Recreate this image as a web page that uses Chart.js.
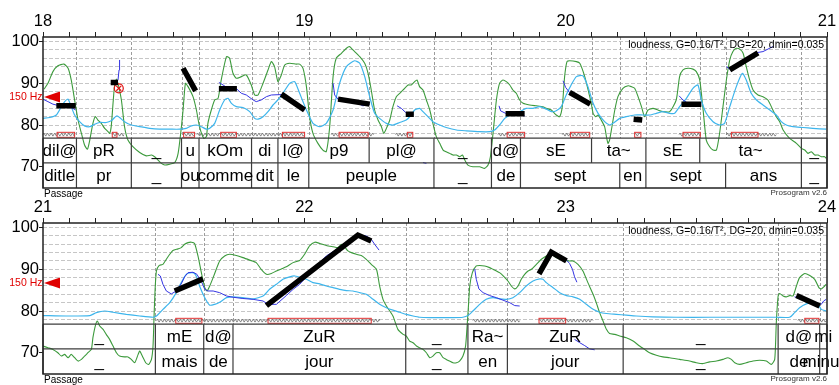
<!DOCTYPE html>
<html>
<head>
<meta charset="utf-8">
<script src="https://cdn.jsdelivr.net/npm/chart.js@4.4.1/dist/chart.umd.min.js"></script>
<style>
  html, body { margin: 0; padding: 0; background: #fff; width: 839px; height: 385px; overflow: hidden; }
  canvas { position: absolute; left: 0; }
  #panel1 { top: 0; }
  #panel2 { top: 186px; }
</style>
</head>
<body>
<canvas id="panel1" width="839" height="200"></canvas>
<canvas id="panel2" width="839" height="199"></canvas>
<script>
// ---------- shared axis data ----------
const yTickValues = [70, 78, 80, 82, 84, 86, 88, 90, 92, 94, 96, 98, 100];
const yRange = [64.9, 101.1];
const tierTop = 76.85;     // top of syllable tier (semitones)
const tierMid = 70.9;      // syllable / word tier separator
const nucleusBand = [77.05, 78.25];
const zigzagLevel = 77.7;
const refLabel = '150 Hz';
const refSemitones = 86.74; // 150 Hz re 1 Hz
const paramText = 'loudness, G=0.16/T\u00B2, DG=20, dmin=0.035';

// ---------- panel 1: 18 - 21 s ----------
const p1Time = [18, 21];
const p1Intensity = [[18.004,88.6],[18.019,90.0],[18.038,92.8],[18.057,94.2],[18.080,94.6],[18.096,93.6],[18.108,90.8],[18.121,86.0],[18.134,81.2],[18.147,78.0],[18.159,75.2],[18.170,74.2],[18.179,76.4],[18.191,80.4],[18.200,82.0],[18.210,81.2],[18.223,80.4],[18.236,79.2],[18.249,78.4],[18.255,78.0],[18.261,79.6],[18.268,85.2],[18.274,89.6],[18.281,91.0],[18.287,90.0],[18.300,86.0],[18.312,79.6],[18.325,76.4],[18.344,74.8],[18.370,73.4],[18.395,72.6],[18.415,72.8],[18.427,72.4],[18.440,71.6],[18.453,70.8],[18.466,70.4],[18.485,70.6],[18.504,71.0],[18.517,73.2],[18.529,79.2],[18.536,83.6],[18.545,90.0],[18.555,89.2],[18.574,86.8],[18.587,83.6],[18.599,79.6],[18.615,76.8],[18.625,77.2],[18.631,80.4],[18.644,83.6],[18.657,86.0],[18.670,86.4],[18.682,90.8],[18.702,96.4],[18.714,96.0],[18.727,92.4],[18.740,91.2],[18.759,91.6],[18.778,92.0],[18.797,89.6],[18.810,87.2],[18.823,87.2],[18.842,90.0],[18.861,93.2],[18.874,95.2],[18.886,94.0],[18.899,90.4],[18.912,92.0],[18.925,94.4],[18.944,94.8],[18.969,94.6],[18.982,94.6],[18.995,93.6],[19.008,89.2],[19.020,82.0],[19.033,78.0],[19.052,75.6],[19.071,74.0],[19.084,73.6],[19.097,79.6],[19.110,91.6],[19.122,96.0],[19.142,97.2],[19.161,98.4],[19.173,98.8],[19.186,98.0],[19.212,96.4],[19.231,94.8],[19.244,92.4],[19.256,88.4],[19.269,83.6],[19.282,81.2],[19.295,79.6],[19.304,78.0],[19.314,79.2],[19.327,81.2],[19.339,84.4],[19.352,86.8],[19.365,87.6],[19.378,88.4],[19.397,89.6],[19.409,89.6],[19.422,90.4],[19.431,90.8],[19.441,89.2],[19.454,88.4],[19.467,86.0],[19.480,83.6],[19.492,80.4],[19.505,77.2],[19.518,75.6],[19.531,74.0],[19.543,73.6],[19.556,73.2],[19.569,72.8],[19.582,72.8],[19.594,72.4],[19.605,72.8],[19.614,71.6],[19.626,70.4],[19.645,70.0],[19.671,70.0],[19.690,69.6],[19.703,70.4],[19.712,72.4],[19.722,78.0],[19.735,86.0],[19.747,90.0],[19.760,90.8],[19.773,90.4],[19.786,89.6],[19.798,88.4],[19.811,87.6],[19.824,86.0],[19.837,85.2],[19.862,84.8],[19.888,84.6],[19.913,84.4],[19.926,84.0],[19.945,83.6],[19.964,82.4],[19.977,82.0],[19.987,84.4],[19.996,91.6],[20.005,95.2],[20.015,95.4],[20.041,95.2],[20.054,94.8],[20.073,91.6],[20.089,87.6],[20.098,85.2],[20.105,82.8],[20.115,82.0],[20.124,82.4],[20.136,81.2],[20.149,79.6],[20.156,77.2],[20.162,75.6],[20.168,76.4],[20.175,78.8],[20.188,83.6],[20.200,86.8],[20.219,88.8],[20.239,89.4],[20.251,89.2],[20.264,88.8],[20.277,86.8],[20.290,84.4],[20.302,82.0],[20.315,83.6],[20.334,84.0],[20.353,83.6],[20.372,83.2],[20.398,83.2],[20.423,86.0],[20.436,91.6],[20.449,93.2],[20.468,93.6],[20.487,93.4],[20.500,92.8],[20.513,90.8],[20.526,83.6],[20.538,76.4],[20.551,74.8],[20.564,74.0],[20.577,74.0],[20.589,78.0],[20.602,84.4],[20.615,90.8],[20.628,95.6],[20.640,97.6],[20.653,98.4],[20.666,98.2],[20.679,97.2],[20.691,94.0],[20.704,90.8],[20.717,88.4],[20.736,87.2],[20.755,86.8],[20.774,86.0],[20.793,83.6],[20.806,82.0],[20.819,80.8],[20.832,78.8],[20.857,76.8],[20.883,75.6],[20.902,74.4],[20.915,74.0],[20.927,73.2],[20.940,73.6],[20.953,72.8],[20.966,72.8],[20.978,72.4],[20.991,72.4],[20.997,72.0]];
const p1Loudness = [[18.000,81.6],[18.026,81.8],[18.051,82.4],[18.070,84.4],[18.083,85.6],[18.096,86.2],[18.108,84.4],[18.121,82.4],[18.140,80.8],[18.159,79.8],[18.179,79.6],[18.198,80.2],[18.217,80.6],[18.242,80.6],[18.261,81.0],[18.274,81.8],[18.283,82.2],[18.293,81.8],[18.312,80.8],[18.338,80.0],[18.370,79.6],[18.408,79.2],[18.446,79.0],[18.485,79.0],[18.523,79.0],[18.548,79.2],[18.568,79.8],[18.587,80.0],[18.606,79.6],[18.625,79.0],[18.638,79.2],[18.657,80.4],[18.676,83.6],[18.695,86.0],[18.708,86.4],[18.721,85.2],[18.740,84.4],[18.765,84.2],[18.791,83.2],[18.810,81.6],[18.823,81.4],[18.842,82.0],[18.861,83.2],[18.880,84.8],[18.899,86.0],[18.918,87.6],[18.944,90.0],[18.963,90.4],[18.982,87.6],[19.008,83.6],[19.033,80.4],[19.059,79.6],[19.084,80.4],[19.110,83.6],[19.135,90.0],[19.161,94.0],[19.192,95.4],[19.212,94.8],[19.231,91.6],[19.250,86.8],[19.269,82.8],[19.288,81.6],[19.314,80.4],[19.339,80.0],[19.365,80.6],[19.390,81.2],[19.409,82.4],[19.422,83.6],[19.441,84.0],[19.454,83.2],[19.473,82.0],[19.492,80.8],[19.518,80.0],[19.543,79.4],[19.582,78.8],[19.620,78.6],[19.671,78.4],[19.709,78.4],[19.728,78.8],[19.747,80.0],[19.767,81.6],[19.786,82.4],[19.798,82.8],[19.824,83.2],[19.849,84.0],[19.875,84.0],[19.900,84.4],[19.926,83.8],[19.945,83.2],[19.964,83.4],[19.983,84.4],[20.002,87.2],[20.021,89.6],[20.041,91.6],[20.066,91.8],[20.085,89.2],[20.105,85.2],[20.124,82.8],[20.149,80.8],[20.168,80.0],[20.181,80.4],[20.207,81.6],[20.232,82.0],[20.264,82.4],[20.296,82.4],[20.321,82.4],[20.347,82.8],[20.372,83.2],[20.398,82.8],[20.417,82.8],[20.436,84.4],[20.462,86.4],[20.487,88.8],[20.506,89.6],[20.519,86.0],[20.538,82.8],[20.564,80.8],[20.589,80.0],[20.608,80.4],[20.628,84.4],[20.653,89.2],[20.676,92.4],[20.691,90.8],[20.710,87.6],[20.730,86.0],[20.755,84.8],[20.781,83.6],[20.806,82.4],[20.825,80.8],[20.844,80.0],[20.870,79.6],[20.908,79.4],[20.946,79.2],[20.997,79.0]];
const p1Pitch = [
  [[18.000,86.2],[18.019,85.6],[18.038,85.0],[18.057,84.7],[18.089,84.6],[18.108,84.2],[18.125,83.6]],
  [[18.261,90.0],[18.281,90.2],[18.287,90.8],[18.291,93.2],[18.293,95.6]],
  [[18.673,90.2],[18.689,89.6],[18.708,88.8],[18.742,88.6],[18.759,87.6],[18.778,87.2],[18.804,86.0],[18.816,85.6],[18.835,86.0],[18.855,86.8],[18.874,87.2],[18.912,87.3],[18.944,86.0],[18.982,84.0],[19.001,83.6]],
  [[19.110,90.0],[19.116,87.2],[19.129,86.2],[19.161,85.8],[19.199,85.4],[19.224,84.6],[19.250,85.0]],
  [[19.355,84.6],[19.371,84.0],[19.388,83.0],[19.409,82.6],[19.418,82.6]],
  [[19.454,71.0],[19.467,70.8]],
  [[19.745,84.6],[19.751,83.4],[19.770,82.8],[19.798,82.6],[19.843,82.2]],
  [[19.990,90.6],[20.000,89.0],[20.015,87.8],[20.055,86.4],[20.094,85.0]],
  [[20.434,87.0],[20.449,86.0],[20.468,85.2],[20.519,84.8]],
  [[20.615,94.0],[20.628,93.4],[20.736,97.4],[20.755,97.6],[20.774,98.2],[20.793,98.8]]
];
const p1Stylized = [
  [[18.051,84.6],[18.125,84.6]],
  [[18.259,90.2],[18.287,90.2]],
  [[18.536,93.6],[18.584,88.2]],
  [[18.673,88.7],[18.742,88.7]],
  [[18.912,87.4],[19.001,83.6]],
  [[19.129,86.2],[19.250,85.0]],
  [[19.388,82.6],[19.419,82.6]],
  [[19.770,82.7],[19.843,82.7]],
  [[20.015,87.8],[20.094,85.0]],
  [[20.260,81.4],[20.293,81.2]],
  [[20.443,85.0],[20.519,85.0]],
  [[20.628,93.2],[20.736,97.3]]
];
const p1Rejected = [[18.290, 88.8]];
const p1Nuclei = [[18.054,18.121],[18.265,18.283],[18.538,18.580],[18.680,18.740],[18.916,19.001],[19.133,19.244],[19.394,19.415],[19.776,19.843],[20.018,20.092],[20.264,20.288],[20.449,20.515],[20.634,20.736]];
const p1Voicing = [[18.000,18.054],[18.283,18.309],[18.589,18.680],[18.740,18.916],[19.103,19.133],[19.244,19.265],[19.349,19.394],[19.741,19.776],[19.987,20.018],[20.434,20.449],[20.615,20.634],[20.736,20.806]];
const p1SylBounds = [18.000,18.128,18.338,18.530,18.597,18.798,18.899,19.017,19.248,19.496,19.716,19.827,20.099,20.307,20.513,20.902,21.000];
const p1SylLabels = ['dil@','pR','_','u','kOm','di','l@','p9','pl@','_','d@','sE','ta~','sE','ta~','_'];
const p1WordBounds = [18.000,18.128,18.338,18.530,18.597,18.798,18.899,19.017,19.496,19.716,19.827,20.207,20.307,20.612,20.902,21.000];
const p1WordLabels = ['ditle','pr','_','ou','comme','dit','le','peuple','_','de','sept','en','sept','ans','_'];

// ---------- panel 2: 21 - 24 s ----------
const p2Time = [21, 24];
const p2Intensity = [[21.000,71.6],[21.019,71.2],[21.038,70.8],[21.057,70.0],[21.070,69.2],[21.083,69.6],[21.096,68.8],[21.108,69.6],[21.121,68.8],[21.134,68.0],[21.147,68.4],[21.159,69.2],[21.172,70.0],[21.185,70.8],[21.191,73.6],[21.200,76.4],[21.208,77.6],[21.217,76.4],[21.230,75.6],[21.242,74.4],[21.255,73.2],[21.268,71.6],[21.281,70.0],[21.293,69.2],[21.312,69.0],[21.325,69.0],[21.338,68.4],[21.351,67.6],[21.364,69.6],[21.370,70.4],[21.380,69.2],[21.393,67.6],[21.404,67.2],[21.415,68.4],[21.421,71.6],[21.425,78.8],[21.429,85.2],[21.434,89.6],[21.444,90.9],[21.459,91.2],[21.472,92.4],[21.485,93.6],[21.497,94.5],[21.517,94.9],[21.529,95.2],[21.542,96.0],[21.555,96.4],[21.568,96.5],[21.580,96.2],[21.593,93.2],[21.606,89.2],[21.619,85.6],[21.628,84.8],[21.638,86.0],[21.651,88.0],[21.663,90.0],[21.676,92.0],[21.695,93.2],[21.714,93.6],[21.740,93.3],[21.765,92.8],[21.791,92.2],[21.816,91.6],[21.835,90.0],[21.855,88.8],[21.874,89.0],[21.893,89.6],[21.912,90.1],[21.931,90.6],[21.957,91.6],[21.982,92.1],[22.001,93.6],[22.020,95.6],[22.040,96.5],[22.059,96.2],[22.084,95.7],[22.110,95.4],[22.129,95.2],[22.142,96.0],[22.154,95.4],[22.167,94.4],[22.180,94.0],[22.199,93.6],[22.218,93.3],[22.237,92.4],[22.256,91.2],[22.276,90.0],[22.288,86.0],[22.301,82.8],[22.314,81.2],[22.339,78.8],[22.358,75.6],[22.378,74.4],[22.390,74.0],[22.403,72.8],[22.416,72.4],[22.429,71.6],[22.441,71.2],[22.454,70.8],[22.467,70.0],[22.480,68.8],[22.492,69.2],[22.505,70.0],[22.518,70.0],[22.531,68.8],[22.543,68.4],[22.556,68.0],[22.569,67.6],[22.582,67.6],[22.594,68.0],[22.607,69.2],[22.617,71.6],[22.622,75.6],[22.628,81.2],[22.633,86.0],[22.643,89.2],[22.658,90.8],[22.671,90.9],[22.690,90.8],[22.709,90.4],[22.722,90.0],[22.735,89.6],[22.747,89.2],[22.760,88.5],[22.779,87.2],[22.792,86.0],[22.805,85.3],[22.818,86.0],[22.830,87.6],[22.843,88.8],[22.856,89.6],[22.869,90.0],[22.888,91.2],[22.907,92.4],[22.926,93.2],[22.945,93.6],[22.964,92.8],[22.977,92.4],[22.996,92.2],[23.015,92.0],[23.028,92.0],[23.047,91.2],[23.066,89.6],[23.085,86.8],[23.105,84.0],[23.117,82.0],[23.130,79.6],[23.143,77.6],[23.156,75.6],[23.168,74.6],[23.188,74.4],[23.207,74.0],[23.232,73.6],[23.258,72.8],[23.283,71.6],[23.302,70.8],[23.321,70.0],[23.347,69.4],[23.372,69.0],[23.398,68.8],[23.436,68.4],[23.474,68.0],[23.500,67.6],[23.526,67.4],[23.551,67.8],[23.577,68.0],[23.602,68.4],[23.621,68.8],[23.634,68.4],[23.647,67.6],[23.666,67.2],[23.691,67.6],[23.717,68.0],[23.742,68.2],[23.768,68.0],[23.787,67.2],[23.800,68.4],[23.806,77.2],[23.813,83.6],[23.819,84.2],[23.832,83.6],[23.844,83.4],[23.857,83.7],[23.870,83.6],[23.883,86.0],[23.895,88.0],[23.915,89.0],[23.934,88.5],[23.953,87.6],[23.969,85.6],[23.978,85.3],[23.991,86.0],[23.997,86.4]];
const p2Loudness = [[21.000,78.9],[21.089,78.8],[21.179,78.9],[21.204,79.6],[21.236,80.0],[21.268,79.7],[21.319,79.2],[21.370,78.8],[21.421,78.5],[21.434,78.8],[21.459,80.4],[21.485,82.0],[21.510,84.4],[21.529,86.8],[21.548,88.8],[21.568,89.2],[21.580,89.0],[21.589,88.0],[21.599,86.0],[21.619,83.2],[21.638,81.4],[21.657,81.6],[21.676,82.1],[21.702,83.2],[21.727,83.4],[21.765,83.2],[21.804,82.9],[21.842,83.6],[21.867,85.2],[21.893,86.4],[21.918,87.6],[21.944,88.2],[21.963,88.4],[21.982,88.1],[22.008,87.6],[22.033,86.8],[22.059,86.5],[22.084,86.0],[22.110,85.6],[22.135,85.2],[22.161,84.9],[22.186,84.8],[22.212,84.4],[22.237,84.0],[22.263,82.8],[22.288,81.6],[22.314,80.8],[22.339,80.2],[22.365,79.7],[22.390,79.2],[22.416,78.8],[22.441,78.5],[22.480,78.4],[22.518,78.4],[22.569,78.4],[22.607,78.5],[22.626,78.9],[22.645,80.0],[22.671,81.6],[22.696,82.8],[22.722,83.2],[22.747,82.9],[22.773,82.8],[22.798,83.2],[22.824,84.4],[22.849,86.0],[22.875,87.2],[22.901,87.7],[22.913,87.6],[22.926,86.8],[22.952,85.6],[22.977,84.4],[23.003,83.7],[23.028,83.4],[23.054,82.8],[23.079,81.6],[23.105,80.4],[23.130,79.7],[23.156,79.4],[23.194,79.2],[23.232,79.0],[23.270,78.8],[23.334,78.6],[23.423,78.5],[23.551,78.5],[23.679,78.5],[23.806,78.5],[23.857,78.5],[23.876,79.6],[23.895,80.8],[23.921,81.7],[23.946,82.0],[23.966,81.6],[23.978,80.4],[23.997,80.0]];
const p2Pitch = [
  [[21.440,88.8],[21.449,88.4],[21.459,86.4],[21.472,84.8],[21.491,84.1],[21.510,84.8],[21.529,86.5],[21.542,88.2],[21.555,89.2],[21.574,89.3],[21.589,88.8],[21.599,87.7],[21.608,86.8],[21.619,85.2],[21.631,84.8],[21.651,84.8],[21.676,84.4],[21.702,83.6],[21.727,83.3],[21.765,83.0],[21.804,82.8],[21.842,82.4],[21.861,81.6],[21.893,81.6],[21.931,83.7],[21.957,85.2],[21.982,86.4],[22.008,88.2],[22.033,89.6],[22.059,91.6],[22.084,93.2],[22.135,95.2],[22.205,98.0],[22.237,98.0],[22.256,97.2],[22.269,96.0],[22.286,94.6]],
  [[22.652,90.1],[22.658,87.6],[22.668,85.3],[22.684,84.4],[22.709,83.7],[22.735,83.2],[22.760,82.6],[22.786,82.0],[22.805,81.3],[22.824,81.2]],
  [[22.945,94.1],[22.977,93.2],[23.003,92.2],[23.015,91.4],[23.026,90.0],[23.034,88.2],[23.043,86.9]],
  [[23.034,73.2],[23.054,72.4],[23.073,71.7],[23.092,70.9],[23.111,70.7]],
  [[23.876,83.4],[23.927,82.5],[23.978,81.6],[23.987,82.4],[23.997,82.8]]
];
const p2Stylized = [
  [[21.504,84.8],[21.612,87.7]],
  [[21.855,81.3],[22.205,98.2],[22.256,96.8]],
  [[22.898,88.9],[22.945,94.1],[23.003,92.0]],
  [[23.883,83.7],[23.972,81.2]]
];
const p2Rejected = [];
const p2Nuclei = [[21.508,21.608],[21.861,22.256],[22.898,23.000],[23.915,23.969]];
const p2Voicing = [[21.434,21.508],[21.608,21.861],[22.256,22.288],[22.645,22.824],[23.000,23.105],[23.889,23.915],[23.969,23.997]];
const p2SylBounds = [21.000,21.430,21.615,21.727,22.388,22.626,22.777,23.220,23.813,23.972,24.000];
const p2SylLabels = ['_','mE','d@','ZuR','_','Ra~','ZuR','_','d@','mi'];
const p2WordBounds = [21.000,21.430,21.615,21.727,22.388,22.626,22.777,23.220,23.813,23.972,24.000];
const p2WordLabels = ['_','mais','de','jour','_','en','jour','_','de','minut'];

// ---------- drawing ----------
const FONT = '"Liberation Sans", Arial, Helvetica, sans-serif';
const toXY = pts => pts.map(p => ({ x: p[0], y: p[1] }));
function joinSegments(segs) {
  const out = [];
  segs.forEach((s, i) => {
    if (i) out.push({ x: s[0][0], y: null });
    s.forEach(p => out.push({ x: p[0], y: p[1] }));
  });
  return out;
}
function zigzag(ctx, x0, x1, y, amp, period) {
  ctx.beginPath();
  ctx.moveTo(x0, y);
  let up = true;
  for (let x = x0 + period / 4; x < x1; x += period / 2) {
    ctx.lineTo(x, y + (up ? -amp : amp));
    up = !up;
  }
  ctx.lineTo(x1, y);
  ctx.stroke();
}

function prosodyLayer(p) {
  return {
    id: 'prosody-' + p.id,
    beforeDatasetsDraw(chart) {
      const { ctx, chartArea: a, scales: { x, y } } = chart;
      const yT = y.getPixelForValue(tierTop);
      ctx.save();
      // boundary guides above the tiers
      const bounds = Array.from(new Set(p.sylBounds.concat(p.wordBounds)))
        .filter(t => t > p.time[0] + 1e-6 && t < p.time[1] - 1e-6);
      ctx.strokeStyle = '#9c9c9c';
      ctx.lineWidth = 1;
      ctx.setLineDash([3, 2]);
      bounds.forEach(t => {
        const px = Math.round(x.getPixelForValue(t)) + 0.5;
        ctx.beginPath(); ctx.moveTo(px, a.top); ctx.lineTo(px, yT); ctx.stroke();
      });
      ctx.setLineDash([]);
      // voicing zigzags
      const yz = y.getPixelForValue(zigzagLevel);
      ctx.strokeStyle = '#6a6a6a';
      ctx.lineWidth = 0.8;
      p.voicing.concat(p.nuclei).forEach(([t0, t1]) =>
        zigzag(ctx, x.getPixelForValue(t0), x.getPixelForValue(t1), yz, 1.5, 3.6));
      // nucleus boxes
      const yb0 = y.getPixelForValue(nucleusBand[1]);
      const yb1 = y.getPixelForValue(nucleusBand[0]);
      ctx.strokeStyle = '#e23232';
      ctx.lineWidth = 1;
      p.nuclei.forEach(([t0, t1]) => {
        const x0 = x.getPixelForValue(t0), x1 = x.getPixelForValue(t1);
        ctx.strokeRect(x0, yb0, x1 - x0, yb1 - yb0);
      });
      ctx.restore();
    },
    afterDatasetsDraw(chart) {
      const { ctx, chartArea: a, scales: { x, y } } = chart;
      const yT = y.getPixelForValue(tierTop);
      const yM = y.getPixelForValue(tierMid);
      const yB = a.bottom;
      ctx.save();
      // tier grid
      ctx.strokeStyle = '#3c3c3c';
      ctx.lineWidth = 1.2;
      [yT, yM].forEach(yy => { ctx.beginPath(); ctx.moveTo(a.left, yy); ctx.lineTo(a.right, yy); ctx.stroke(); });
      p.sylBounds.forEach(t => {
        const px = x.getPixelForValue(t);
        ctx.beginPath(); ctx.moveTo(px, yT); ctx.lineTo(px, yM); ctx.stroke();
      });
      p.wordBounds.forEach(t => {
        const px = x.getPixelForValue(t);
        ctx.beginPath(); ctx.moveTo(px, yM); ctx.lineTo(px, yB); ctx.stroke();
      });
      // tier labels
      ctx.fillStyle = '#000';
      ctx.font = '17px ' + FONT;
      ctx.textAlign = 'center';
      ctx.textBaseline = 'middle';
      const put = (b, labels, yc) => labels.forEach((s, i) => {
        const cx = (x.getPixelForValue(b[i]) + x.getPixelForValue(b[i + 1])) / 2;
        ctx.fillText(s, cx, yc);
      });
      put(p.sylBounds, p.sylLabels, (yT + yM) / 2 + 0.5);
      put(p.wordBounds, p.wordLabels, (yM + yB) / 2 + 0.5);
      // frame
      ctx.strokeStyle = '#222';
      ctx.lineWidth = 1.5;
      ctx.strokeRect(a.left, a.top, a.right - a.left, a.bottom - a.top);
      // reference pitch marker
      const yr = y.getPixelForValue(refSemitones);
      ctx.fillStyle = '#e00000';
      ctx.beginPath();
      ctx.moveTo(a.left + 1, yr);
      ctx.lineTo(a.left + 17, yr - 5.5);
      ctx.lineTo(a.left + 17, yr + 5.5);
      ctx.closePath();
      ctx.fill();
      ctx.font = '10.5px ' + FONT;
      ctx.textAlign = 'right';
      ctx.fillText(refLabel, a.left - 0.5, yr + 0.5);
      // parameter note
      ctx.fillStyle = '#000';
      ctx.font = '10.5px ' + FONT;
      ctx.textAlign = 'right';
      ctx.fillText(paramText, a.right - 3, a.top + 8);
      // footer labels
      ctx.font = '10px ' + FONT;
      ctx.textAlign = 'left';
      ctx.fillText('Passage', a.left + 1, a.bottom + 6.5);
      ctx.fillStyle = '#333';
      ctx.font = '8px ' + FONT;
      ctx.textAlign = 'right';
      ctx.fillText('Prosogram v2.6', a.right, a.bottom + 5);
      ctx.restore();
    }
  };
}

function buildPanel(canvasId, p, padBottom) {
  return new Chart(document.getElementById(canvasId), {
    type: 'scatter',
    data: {
      datasets: [
        { label: 'stylized pitch', data: joinSegments(p.stylized), showLine: true, borderColor: '#000',
          borderWidth: 5.5, pointRadius: 0, borderCapStyle: 'butt', borderJoinStyle: 'miter', spanGaps: false, order: 0 },
        { label: 'rejected', data: toXY(p.rejected), showLine: false, pointStyle: 'circle', pointRadius: 4.5,
          borderColor: '#e01010', pointBorderColor: '#e01010', backgroundColor: 'rgba(0,0,0,0)',
          pointBackgroundColor: 'rgba(0,0,0,0)', pointBorderWidth: 1.2, order: 1 },
        { label: 'rejected x', data: toXY(p.rejected), showLine: false, pointStyle: 'crossRot', pointRadius: 3.5,
          borderColor: '#e01010', pointBorderColor: '#e01010', pointBorderWidth: 1.2, order: 1 },
        { label: 'F0', data: joinSegments(p.pitch), showLine: true, borderColor: '#3434e2', borderWidth: 1,
          pointRadius: 0, spanGaps: false, order: 2 },
        { label: 'loudness', data: toXY(p.loudness), showLine: true, borderColor: '#3db5ec', borderWidth: 1.2,
          pointRadius: 0, tension: 0.2, order: 3 },
        { label: 'intensity', data: toXY(p.intensity), showLine: true, borderColor: '#3c9a3c', borderWidth: 1.1,
          pointRadius: 0, tension: 0.2, order: 4 }
      ]
    },
    options: {
      responsive: false,
      animation: false,
      devicePixelRatio: 1,
      layout: { padding: { left: 0, right: 12, top: 0, bottom: padBottom } },
      plugins: { legend: { display: false }, tooltip: { enabled: false } },
      scales: {
        x: {
          type: 'linear', position: 'top', min: p.time[0], max: p.time[1],
          afterBuildTicks: s => { s.ticks = []; for (let i = 0; i <= 30; i++) s.ticks.push({ value: p.time[0] + i / 10 }); },
          afterFit: s => { s.height = 37; },
          ticks: {
            autoSkip: false, maxRotation: 0, padding: 1, color: '#000',
            font: { family: FONT, size: 16.5 },
            callback: v => { const r = Math.round(v); return Math.abs(v - r) < 1e-6 ? String(r) : ''; }
          },
          grid: { drawOnChartArea: false, drawTicks: true, tickLength: 5, tickColor: '#222', tickWidth: 1 },
          border: { display: false }
        },
        y: {
          type: 'linear', min: yRange[0], max: yRange[1],
          afterBuildTicks: s => { s.ticks = yTickValues.map(v => ({ value: v })); },
          afterFit: s => { s.width = 43; },
          ticks: {
            autoSkip: false, padding: 0, color: '#000',
            font: { family: FONT, size: 16.5 },
            callback: v => (v % 10 === 0 ? String(v) : '')
          },
          grid: {
            color: c => (c.tick && c.tick.value >= 78 ? '#c6c6c6' : 'rgba(0,0,0,0)'),
            lineWidth: 1, tickLength: 4, tickWidth: 1,
            tickColor: c => (c.tick && c.tick.value % 10 === 0 ? '#222' : 'rgba(0,0,0,0)')
          },
          border: { display: false, dash: [4, 2] }
        }
      }
    },
    plugins: [prosodyLayer(p)]
  });
}

buildPanel('panel1', {
  id: 1, time: p1Time, intensity: p1Intensity, loudness: p1Loudness, pitch: p1Pitch, stylized: p1Stylized,
  rejected: p1Rejected, nuclei: p1Nuclei, voicing: p1Voicing,
  sylBounds: p1SylBounds, sylLabels: p1SylLabels, wordBounds: p1WordBounds, wordLabels: p1WordLabels
}, 12);
buildPanel('panel2', {
  id: 2, time: p2Time, intensity: p2Intensity, loudness: p2Loudness, pitch: p2Pitch, stylized: p2Stylized,
  rejected: p2Rejected, nuclei: p2Nuclei, voicing: p2Voicing,
  sylBounds: p2SylBounds, sylLabels: p2SylLabels, wordBounds: p2WordBounds, wordLabels: p2WordLabels
}, 11);
</script>
</body>
</html>
